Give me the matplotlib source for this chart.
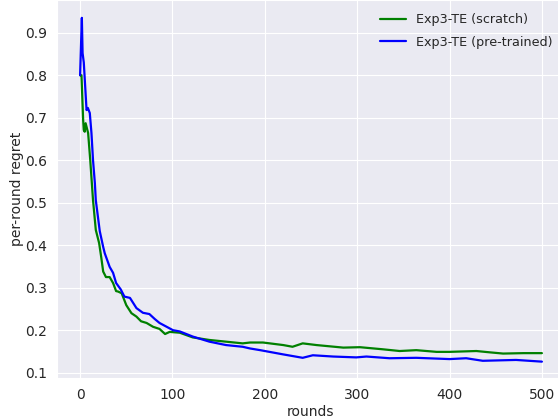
import matplotlib
matplotlib.use("Agg")
import matplotlib.pyplot as plt
import seaborn as sns

# values (round, per-round regret)
scratch_rounds = [0, 1.5, 3.3, 4, 5, 6, 8.7, 11, 14, 17, 20.6, 23, 25, 28, 32, 35.7, 39, 41, 45,
                  50, 55.6, 61, 66, 72, 79, 86, 92, 97, 108, 122, 140, 158, 176, 184, 198, 220,
                  230, 241, 256, 285, 303, 328, 346, 364, 386, 400, 429, 443, 458, 480, 500]
scratch_regret = [0.80, 0.80, 0.695, 0.671, 0.667, 0.687, 0.664, 0.60, 0.506, 0.436, 0.405, 0.37,
                  0.338, 0.325, 0.325, 0.311, 0.292, 0.291, 0.287, 0.259, 0.240, 0.232, 0.221,
                  0.217, 0.208, 0.203, 0.191, 0.196, 0.194, 0.183, 0.177, 0.173, 0.169, 0.171,
                  0.171, 0.165, 0.161, 0.169, 0.165, 0.159, 0.160, 0.155, 0.151, 0.153, 0.149,
                  0.149, 0.151, 0.148, 0.145, 0.146, 0.146]

pretrained_rounds = [0, 1.9, 2.7, 4, 7, 8.4, 10.5, 12.3, 14, 16, 17, 21.3, 25, 26.7, 32, 35.7,
                     39, 44, 48, 54, 61, 68, 75, 81, 86, 100.6, 108, 122, 140, 158, 176, 184,
                     195, 220, 241, 252, 274, 299, 310, 335, 364, 400, 418, 436, 472, 500]
pretrained_regret = [0.80, 0.935, 0.852, 0.83, 0.718, 0.723, 0.711, 0.664, 0.60, 0.546, 0.506,
                     0.433, 0.396, 0.381, 0.349, 0.335, 0.311, 0.296, 0.279, 0.276, 0.252, 0.241,
                     0.238, 0.226, 0.217, 0.200, 0.197, 0.185, 0.173, 0.165, 0.161, 0.157,
                     0.153, 0.143, 0.135, 0.141, 0.138, 0.136, 0.138, 0.134, 0.135, 0.132, 0.134,
                     0.128, 0.130, 0.126]

sns.set_style("darkgrid")

fig = plt.figure(figsize=(5.58, 4.19), dpi=100)
ax = fig.add_axes([57 / 558, 41 / 419, 508 / 558, 378 / 419])

ax.plot(scratch_rounds, scratch_regret, color="green", lw=1.6, label="Exp3-TE (scratch)")
ax.plot(pretrained_rounds, pretrained_regret, color="blue", lw=1.6, label="Exp3-TE (pre-trained)")

ax.set_xlim(-25, 525)
ax.set_ylim(0.0875, 0.977)
ax.set_xticks([0, 100, 200, 300, 400, 500])
ax.set_yticks([0.1, 0.2, 0.3, 0.4, 0.5, 0.6, 0.7, 0.8, 0.9])
ax.set_xlabel("rounds", fontsize=10, labelpad=2)
ax.set_ylabel("per-round regret", fontsize=10, labelpad=1)
ax.tick_params(labelsize=10)

ax.legend(loc="upper right", frameon=False, fontsize=9.2, labelspacing=0.75,
          bbox_to_anchor=(0.998, 0.996))

fig.savefig("out.png", dpi=100)
